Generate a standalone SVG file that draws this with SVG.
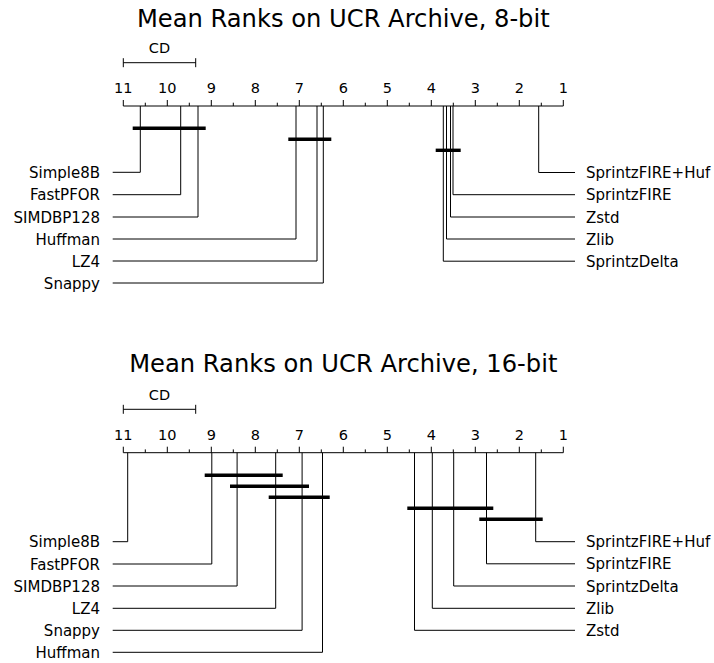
<svg xmlns="http://www.w3.org/2000/svg" width="714" height="663" viewBox="0 0 714 663">
<style>
text{font-family:"DejaVu Sans","Liberation Sans",sans-serif;fill:#000}
.title{font-size:24.2px;text-anchor:middle}
.tick{font-size:14.5px;text-anchor:middle}
.lab{font-size:15px}
.l{text-anchor:end}
.ax,.cn{stroke:#000;stroke-width:1;fill:none}
.bar{stroke:#000;stroke-width:3.4;fill:none}
</style>
<rect width="714" height="663" fill="#fff"/>

<!-- ===== 8-bit ===== -->
<g id="plot8">
<text class="title" x="343.3" y="26.7">Mean Ranks on UCR Archive, 8-bit</text>
<g id="cd8">
<text class="tick" x="159.5" y="53.3">CD</text>
<path class="ax" d="M123.3,62.7H195.7M123.3,58.2V67.2M195.7,58.2V67.2"/>
</g>
<g id="axis8">
<path class="ax" d="M123.3,106H563.3M123.3,100V106M167.3,100V106M211.3,100V106M255.3,100V106M299.3,100V106M343.3,100V106M387.3,100V106M431.3,100V106M475.3,100V106M519.3,100V106M563.3,100V106M145.3,102.7V106M189.3,102.7V106M233.3,102.7V106M277.3,102.7V106M321.3,102.7V106M365.3,102.7V106M409.3,102.7V106M453.3,102.7V106M497.3,102.7V106M541.3,102.7V106"/>
<text class="tick" x="123.3" y="92.7">11</text>
<text class="tick" x="167.3" y="92.7">10</text>
<text class="tick" x="211.3" y="92.7">9</text>
<text class="tick" x="255.3" y="92.7">8</text>
<text class="tick" x="299.3" y="92.7">7</text>
<text class="tick" x="343.3" y="92.7">6</text>
<text class="tick" x="387.3" y="92.7">5</text>
<text class="tick" x="431.3" y="92.7">4</text>
<text class="tick" x="475.3" y="92.7">3</text>
<text class="tick" x="519.3" y="92.7">2</text>
<text class="tick" x="563.3" y="92.7">1</text>
</g>
<g id="connectors8">
<path class="cn" d="M140.3,106V172.3H112.7"/>
<path class="cn" d="M180.7,106V194.7H112.7"/>
<path class="cn" d="M198,106V217H112.7"/>
<path class="cn" d="M296,106V239H112.7"/>
<path class="cn" d="M317,106V261H112.7"/>
<path class="cn" d="M323.3,106V283H112.7"/>
<path class="cn" d="M538.7,106V172.5H575"/>
<path class="cn" d="M453,106V194.7H575"/>
<path class="cn" d="M450.5,106V217H575"/>
<path class="cn" d="M446.5,106V239H575"/>
<path class="cn" d="M443.3,106V261.2H575"/>
<path class="bar" d="M132.7,128.3H205.7"/>
<path class="bar" d="M288.3,139.3H331.3"/>
<path class="bar" d="M435.7,150.3H460.7"/>
</g>
<g id="n8-simple8b"><text class="lab l" x="100" y="177.8">Simple8B</text></g>
<g id="n8-fastpfor"><text class="lab l" x="100" y="200.2">FastPFOR</text></g>
<g id="n8-simdbp128"><text class="lab l" x="100" y="222.5">SIMDBP128</text></g>
<g id="n8-huffman"><text class="lab l" x="100" y="244.5">Huffman</text></g>
<g id="n8-lz4"><text class="lab l" x="100" y="266.5">LZ4</text></g>
<g id="n8-snappy"><text class="lab l" x="100" y="288.5">Snappy</text></g>
<g id="n8-sprintzfirehuf"><text class="lab" x="586" y="178">SprintzFIRE+Huf</text></g>
<g id="n8-sprintzfire"><text class="lab" x="586" y="200.2">SprintzFIRE</text></g>
<g id="n8-zstd"><text class="lab" x="586" y="222.5">Zstd</text></g>
<g id="n8-zlib"><text class="lab" x="586" y="244.5">Zlib</text></g>
<g id="n8-sprintzdelta"><text class="lab" x="586" y="266.7">SprintzDelta</text></g>
</g>

<!-- ===== 16-bit ===== -->
<g id="plot16">
<text class="title" x="343.3" y="371.7">Mean Ranks on UCR Archive, 16-bit</text>
<g id="cd16">
<text class="tick" x="159.5" y="400.3">CD</text>
<path class="ax" d="M123.3,409.3H195.7M123.3,404.8V413.8M195.7,404.8V413.8"/>
</g>
<g id="axis16">
<path class="ax" d="M123.3,452.7H563.3M123.3,446.7V452.7M167.3,446.7V452.7M211.3,446.7V452.7M255.3,446.7V452.7M299.3,446.7V452.7M343.3,446.7V452.7M387.3,446.7V452.7M431.3,446.7V452.7M475.3,446.7V452.7M519.3,446.7V452.7M563.3,446.7V452.7M145.3,449.4V452.7M189.3,449.4V452.7M233.3,449.4V452.7M277.3,449.4V452.7M321.3,449.4V452.7M365.3,449.4V452.7M409.3,449.4V452.7M453.3,449.4V452.7M497.3,449.4V452.7M541.3,449.4V452.7"/>
<text class="tick" x="123.3" y="439.6">11</text>
<text class="tick" x="167.3" y="439.6">10</text>
<text class="tick" x="211.3" y="439.6">9</text>
<text class="tick" x="255.3" y="439.6">8</text>
<text class="tick" x="299.3" y="439.6">7</text>
<text class="tick" x="343.3" y="439.6">6</text>
<text class="tick" x="387.3" y="439.6">5</text>
<text class="tick" x="431.3" y="439.6">4</text>
<text class="tick" x="475.3" y="439.6">3</text>
<text class="tick" x="519.3" y="439.6">2</text>
<text class="tick" x="563.3" y="439.6">1</text>
</g>
<g id="connectors16">
<path class="cn" d="M127.7,452.7V541.7H112.7"/>
<path class="cn" d="M211.8,452.7V564H112.7"/>
<path class="cn" d="M237.1,452.7V586H112.7"/>
<path class="cn" d="M275.7,452.7V608.3H112.7"/>
<path class="cn" d="M302.1,452.7V630.3H112.7"/>
<path class="cn" d="M322.5,452.7V652.3H112.7"/>
<path class="cn" d="M535.7,452.7V541.7H575"/>
<path class="cn" d="M486.5,452.7V563.8H575"/>
<path class="cn" d="M453.7,452.7V586H575"/>
<path class="cn" d="M432.3,452.7V608.3H575"/>
<path class="cn" d="M414.5,452.7V630.3H575"/>
<path class="bar" d="M204.7,475.3H282.7"/>
<path class="bar" d="M230,486.3H309"/>
<path class="bar" d="M268.7,497.3H329.7"/>
<path class="bar" d="M407.3,508.3H493.3"/>
<path class="bar" d="M479.3,519.3H542.7"/>
</g>
<g id="n16-simple8b"><text class="lab l" x="100" y="547.2">Simple8B</text></g>
<g id="n16-fastpfor"><text class="lab l" x="100" y="569.5">FastPFOR</text></g>
<g id="n16-simdbp128"><text class="lab l" x="100" y="591.5">SIMDBP128</text></g>
<g id="n16-lz4"><text class="lab l" x="100" y="613.8">LZ4</text></g>
<g id="n16-snappy"><text class="lab l" x="100" y="635.8">Snappy</text></g>
<g id="n16-huffman"><text class="lab l" x="100" y="657.8">Huffman</text></g>
<g id="n16-sprintzfirehuf"><text class="lab" x="586" y="547.2">SprintzFIRE+Huf</text></g>
<g id="n16-sprintzfire"><text class="lab" x="586" y="569.3">SprintzFIRE</text></g>
<g id="n16-sprintzdelta"><text class="lab" x="586" y="591.5">SprintzDelta</text></g>
<g id="n16-zlib"><text class="lab" x="586" y="613.8">Zlib</text></g>
<g id="n16-zstd"><text class="lab" x="586" y="635.8">Zstd</text></g>
</g>
</svg>
